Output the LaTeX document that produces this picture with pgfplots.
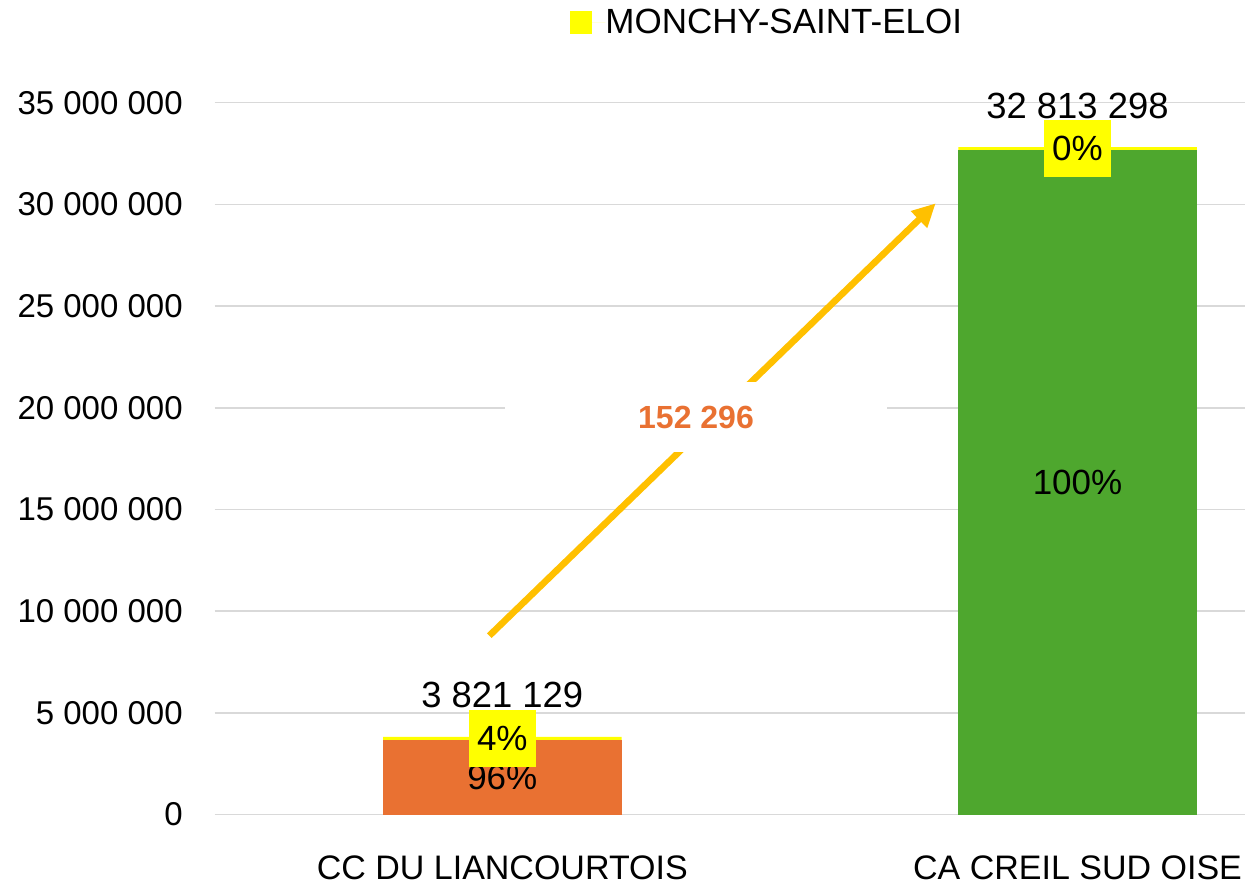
\documentclass[border=0pt]{standalone}
\usepackage{fontspec}
\setmainfont{Liberation Sans}
\usepackage{pgfplots}
\pgfplotsset{compat=1.18}
\usetikzlibrary{arrows.meta}
\definecolor{cOrange}{HTML}{E97132}
\definecolor{cGreen}{HTML}{4EA72E}
\definecolor{cYellow}{HTML}{FFFF00}
\definecolor{cArrow}{HTML}{FFC000}
\definecolor{cGrid}{HTML}{D9D9D9}
\begin{document}
\begin{tikzpicture}
\useasboundingbox (-107.35pt,-34.75pt) rectangle (515.15pt,407.25pt);
\begin{axis}[
  at={(0pt,0pt)}, anchor=south west,
  scale only axis, width=515.15pt, height=355.9pt,
  xmin=-0.5, xmax=1.2912, ymin=0, ymax=35000000,
  clip=false,
  axis line style={draw=none},
  major tick length=0pt,
  ymajorgrids, grid style={cGrid, line width=0.75pt},
  ytick={0,5000000,10000000,15000000,20000000,25000000,30000000,35000000},
  scaled y ticks=false,
  yticklabel style={/pgf/number format/.cd, fixed, precision=0, 1000 sep={\ }, assume math mode=true, /tikz/.cd,
    font=\fontsize{16.5}{19.8}\selectfont, anchor=east, inner sep=0pt, xshift=-15.8pt},
  xtick={0,1}, xticklabels={CC DU LIANCOURTOIS, CA CREIL SUD OISE},
  xticklabel style={font=\fontsize{17}{20}\selectfont, anchor=north, inner sep=0pt, yshift=-20.25pt},
  legend style={at={(0.3449,1.1123)}, anchor=west, draw=none, fill=none, inner sep=0pt,
    font=\fontsize{17.5}{20}\selectfont, nodes={inner sep=0pt}},
]
% totals (yellow, top segment 152 296)
\addplot[ybar, bar width=119.25pt, bar shift=0pt, fill=cYellow, draw=none,
  legend image code/.code={\fill[cYellow] (0pt,-5.5pt) rectangle (11pt,6pt); \path (0pt,0pt) -- (17.5pt,0pt);}]
  coordinates {(0,3821129) (1,32813298)};
\addlegendentry{MONCHY-SAINT-ELOI}
\addplot[ybar, bar width=119.25pt, bar shift=0pt, fill=cOrange, draw=none]
  coordinates {(0,3668833)};
\addplot[ybar, bar width=119.25pt, bar shift=0pt, fill=cGreen, draw=none]
  coordinates {(1,32661002)};

% segment labels
\node[font=\fontsize{17.5}{21}\selectfont] at (axis cs:0,1834416) {96\%};
\node[font=\fontsize{17.5}{21}\selectfont] at (axis cs:1,16330501) {100\%};
\node[fill=cYellow, font=\fontsize{17.5}{21}\selectfont, minimum width=33.5pt, minimum height=28.7pt, inner sep=0pt] at (axis cs:0,3744981) {4\%};
\node[fill=cYellow, font=\fontsize{17.5}{21}\selectfont, minimum width=33.5pt, minimum height=28.7pt, inner sep=0pt] at (axis cs:1,32737150) {0\%};
% totals labels
\node[font=\fontsize{18.2}{21}\selectfont, yshift=20.75pt, inner sep=0pt] at (axis cs:0,3821129) {3 821 129};
\node[font=\fontsize{18.2}{21}\selectfont, yshift=20.75pt, inner sep=0pt] at (axis cs:1,32813298) {32 813 298};
% arrow
\draw[cArrow, line width=3.3pt, -{Triangle[length=11.7pt,width=11pt]}] (axis cs:-0.0226,8792000) -- (axis cs:0.7535,30053000);
\node[fill=white, minimum width=191pt, minimum height=34.7pt, inner sep=0pt, text=cOrange,
  font=\bfseries\fontsize{16}{19}\selectfont] at (axis cs:0.3368,19546000) {152 296};
\end{axis}
\end{tikzpicture}
\end{document}
